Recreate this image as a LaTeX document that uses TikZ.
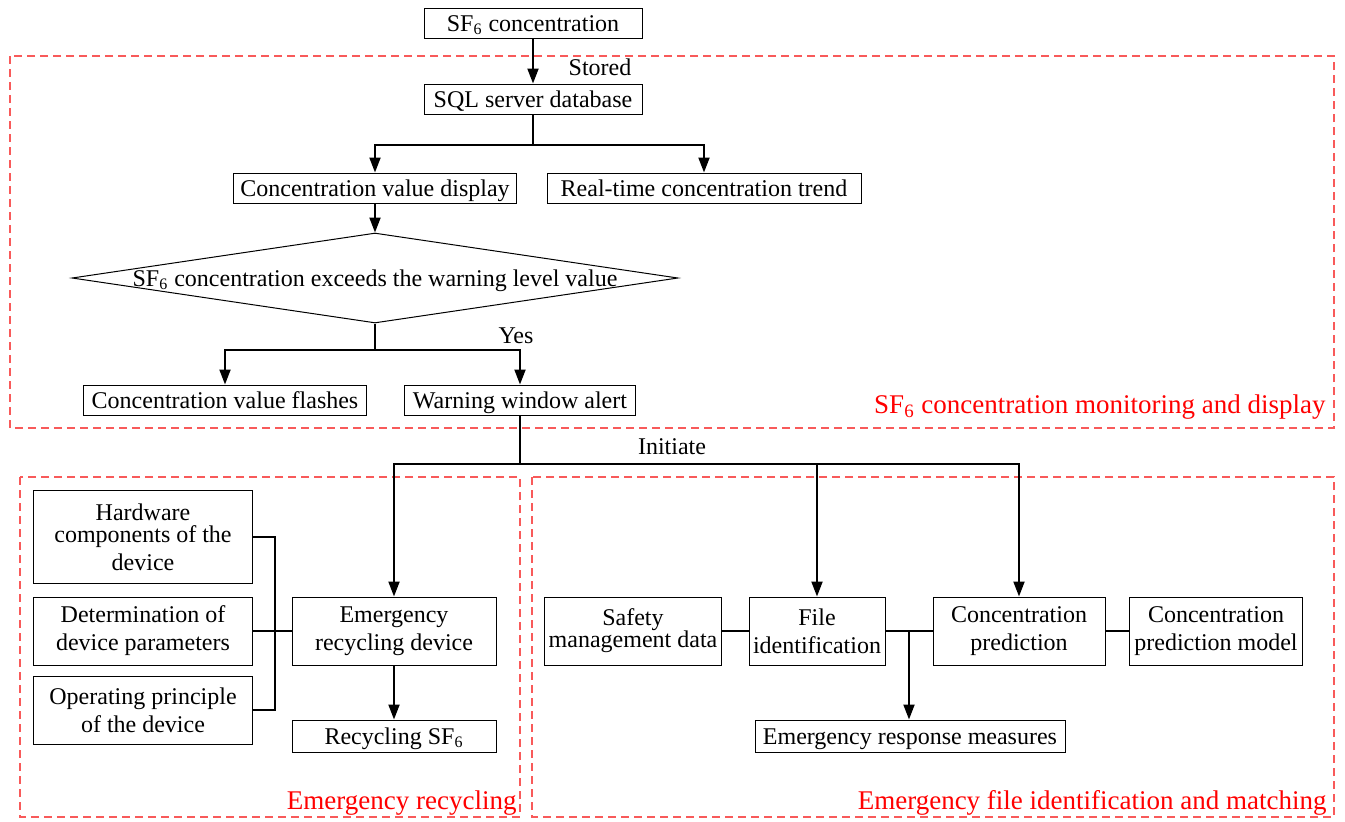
\documentclass[tikz,border=0pt]{standalone}
\usepackage{fontspec}
\setmainfont{Liberation Serif}
\usepackage{xcolor}
\usetikzlibrary{positioning,shapes.geometric,arrows.meta}
\definecolor{zonered}{RGB}{248,90,90}
\begin{document}
\begin{tikzpicture}[x=0.5pt,y=-0.5pt,
  box/.style={draw, line width=0.5pt, inner sep=0pt, align=center, font=\fontsize{12}{14}\selectfont},
  onebox/.style={box, text height=9pt, text depth=1pt},
  decision/.style={draw, diamond, line width=0.5pt, inner sep=0pt},
  arrow/.style={line width=1pt, -{Triangle[length=7.5pt,width=5.5pt]}},
  link/.style={line width=1pt},
  zone/.style={draw=zonered, line width=0.6pt, dash pattern=on 4pt off 2.5pt},
  zonelabel/.style={text=red, anchor=east, inner sep=0pt, font=\fontsize{13.5}{15}\selectfont},
  tag/.style={inner sep=0pt, font=\fontsize{12}{14}\selectfont}]
\useasboundingbox (0,0) rectangle (1345,821);
% Dashed regions
\draw[zone] (10,56) rectangle (1334,428);
\draw[zone] (20,477) rectangle (520,817);
\draw[zone] (532,477) rectangle (1334,817);
% Monitoring part
\node[onebox, minimum width=109pt, minimum height=15pt] (conc) at (533,23) {SF\textsubscript{6} concentration};
\node[onebox, minimum width=109pt, minimum height=15pt] (sql) at (533,99) {SQL server database};
\node[onebox, minimum width=141.5pt, minimum height=15pt] (show) at (375,188) {Concentration value display};
\node[onebox, minimum width=157pt, minimum height=15pt] (trend) at (704,188) {Real-time concentration trend};
\node[decision, minimum width=303pt, minimum height=45pt,
  label={[tag, text height=9pt, text depth=1pt]center:SF\textsubscript{6} concentration exceeds the warning level value}] (exceed) at (375,278) {};
\node[onebox, minimum width=141.5pt, minimum height=15pt] (flash) at (225,400) {Concentration value flashes};
\node[onebox, minimum width=115.5pt, minimum height=15pt] (alert) at (520,400) {Warning window alert};
% Emergency recycling part
\node[box, minimum width=109.5pt, minimum height=46.5pt] (hard) at (143,537) {Hardware\\[-3pt]components of the\\device};
\node[box, minimum width=109.5pt, minimum height=34pt] (param) at (143,631) {Determination of\\device parameters};
\node[box, minimum width=109.5pt, minimum height=34pt] (princ) at (143,710) {Operating principle\\of the device};
\node[box, minimum width=102pt, minimum height=34pt] (recdev) at (394,631) {Emergency\\recycling device};
\node[onebox, minimum width=102pt, minimum height=16pt] (recsf) at (394,736) {Recycling SF\textsubscript{6}};
% Emergency file part
\node[box, minimum width=88.5pt, minimum height=34pt] (safety) at (633,631) {Safety\\[-3pt]management data};
\node[box, minimum width=68pt, minimum height=34pt] (file) at (817,631) {File\\identification};
\node[box, minimum width=86pt, minimum height=34pt] (pred) at (1019,631) {Concentration\\prediction};
\node[box, minimum width=86.5pt, minimum height=34pt] (model) at (1216,631) {Concentration\\prediction model};
\node[onebox, minimum width=155pt, minimum height=16pt] (resp) at (910,736) {Emergency response measures};
% Connectors
\draw[arrow] (conc) -- (sql);
\draw[arrow] (sql.south) -- ++(0,30) coordinate (split1) -| (show);
\draw[arrow] (split1) -| (trend);
\draw[arrow] (show) -- (exceed);
\draw[arrow] (exceed.south) -- ++(0,26) coordinate (split2) -| (flash);
\draw[arrow] (split2) -| (alert);
\draw[arrow] (alert.south) -- ++(0,48) coordinate (split3) -| (recdev);
\draw[arrow] (split3) -| (file);
\draw[arrow] (split3) -| (pred);
\draw[link] (hard.east) -- ++(22,0) |- (princ.east);
\draw[link] (param) -- (recdev);
\draw[arrow] (recdev) -- (recsf);
\draw[link] (safety) -- (file);
\draw[link] (file) -- (pred);
\draw[link] (pred) -- (model);
\path (file.east) -- (pred.west) coordinate[pos=0.5] (split4);
\draw[arrow] (split4) -- (split4 |- resp.north);
% Labels
\node[tag] (stored) at (600,67) {Stored};
\node[tag] (yes) at (516,336) {Yes};
\node[tag] (init) at (672,447) {Initiate};
\node[zonelabel] (zone1) at (1326,407) {SF\textsubscript{6} concentration monitoring and display};
\node[zonelabel] (zone2) at (517,803) {Emergency recycling};
\node[zonelabel] (zone3) at (1327,803) {Emergency file identification and matching};
\end{tikzpicture}
\end{document}
